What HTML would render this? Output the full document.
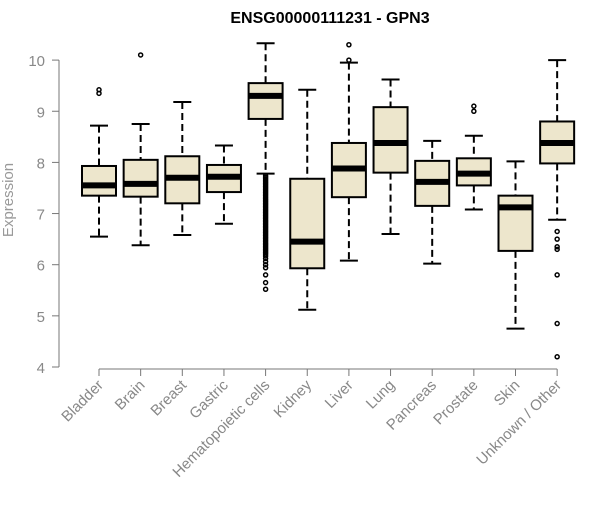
<!DOCTYPE html>
<html><head><meta charset="utf-8"><style>
body{margin:0;background:#fff;font-family:"Liberation Sans",Arial,sans-serif}
</style></head><body>
<svg id="chart" width="600" height="500" xmlns="http://www.w3.org/2000/svg">
<text x="330" y="23" text-anchor="middle" font-weight="bold" font-size="16" fill="#000">ENSG00000111231 - GPN3</text>
<text transform="translate(13,200) rotate(-90)" text-anchor="middle" font-size="15" fill="#999">Expression</text>
<g id="axes"></g><g id="boxes"></g>
</svg>
<script>
const categories=["Bladder","Brain","Breast","Gastric","Hematopoietic cells","Kidney","Liver","Lung","Pancreas","Prostate","Skin","Unknown / Other"];
const whiskerLow=[6.55,6.38,6.58,6.8,7.78,5.12,6.08,6.6,6.02,7.08,4.75,6.88];
const q1=[7.35,7.33,7.2,7.42,8.85,5.93,7.32,7.8,7.15,7.55,6.27,7.98];
const median=[7.55,7.58,7.7,7.72,9.3,6.45,7.88,8.38,7.62,7.78,7.12,8.38];
const q3=[7.93,8.05,8.12,7.95,9.55,7.68,8.38,9.08,8.03,8.08,7.35,8.8];
const whiskerHigh=[8.72,8.75,9.18,8.33,10.33,9.42,9.95,9.62,8.42,8.52,8.02,10.0];
const outliers=[[9.35,9.42],[10.1],[],[],[7.74,7.71,7.68,7.65,7.62,7.59,7.56,7.53,7.5,7.47,7.44,7.41,7.38,7.35,7.32,7.29,7.26,7.23,7.2,7.17,7.14,7.11,7.08,7.05,7.02,6.99,6.96,6.93,6.9,6.87,6.84,6.81,6.78,6.75,6.72,6.69,6.66,6.63,6.6,6.57,6.54,6.51,6.48,6.45,6.42,6.39,6.36,6.33,6.3,6.27,6.24,6.21,6.17,6.12,6.06,6.0,5.94,5.8,5.65,5.52],[],[10.0,10.3],[],[],[9.0,9.1],[],[6.65,6.5,6.35,6.3,5.8,4.85,4.2]];
const yTicks=[4,5,6,7,8,9,10];
const NS="http://www.w3.org/2000/svg";
const y=v=>367-(v-4)*51.15;
const x=i=>99+i*41.65;
function mk(tag,attrs,parent){const e=document.createElementNS(NS,tag);for(const k in attrs)e.setAttribute(k,attrs[k]);parent.appendChild(e);return e;}
const ax=document.getElementById('axes'),bx=document.getElementById('boxes');
const ya=mk('path',{d:`M59,${y(10)}H59V${y(4)}`,stroke:'#777',fill:'none'},ax);


yTicks.forEach(t=>{
 const l=mk('line',{x1:52,x2:59,y1:y(t),y2:y(t),stroke:'#777'},ax);
 
 
 const tx=mk('text',{x:45,y:y(t)+6,'text-anchor':'end','font-size':15,fill:'#888'},ax);
 tx.textContent=t;
 
 
});
const xa=mk('line',{x1:x(0),x2:x(categories.length-1),y1:369,y2:369,stroke:'#777'},ax);


categories.forEach((c,i)=>{
 const cx=x(i);
 const tk=mk('line',{x1:cx,x2:cx,y1:369,y2:376,stroke:'#777'},ax);
 
 
 const tl=mk('text',{x:cx+5,y:386,'text-anchor':'end','font-size':15,fill:'#888',transform:`rotate(-45 ${cx+5} 386)`},ax);
 tl.textContent=c;
 
 
 const g=mk('g',{},bx);
 
 
 const w=17,cap=9;
 mk('line',{x1:cx,x2:cx,y1:y(whiskerHigh[i]),y2:y(q3[i]),stroke:'#000','stroke-width':2,'stroke-dasharray':'7,4'},g);
 mk('line',{x1:cx,x2:cx,y1:y(q1[i]),y2:y(whiskerLow[i]),stroke:'#000','stroke-width':2,'stroke-dasharray':'7,4'},g);
 mk('line',{x1:cx-cap,x2:cx+cap,y1:y(whiskerHigh[i]),y2:y(whiskerHigh[i]),stroke:'#000','stroke-width':2},g);
 mk('line',{x1:cx-cap,x2:cx+cap,y1:y(whiskerLow[i]),y2:y(whiskerLow[i]),stroke:'#000','stroke-width':2},g);
 mk('rect',{x:cx-w,y:y(q3[i]),width:2*w,height:y(q1[i])-y(q3[i]),fill:'#ede6cc',stroke:'#000','stroke-width':2},g);
 mk('line',{x1:cx-w,x2:cx+w,y1:y(median[i]),y2:y(median[i]),stroke:'#000','stroke-width':6},g);
 outliers[i].forEach(o=>{
  const p=mk('circle',{cx:cx,cy:y(o),r:2,fill:'none',stroke:'#000','stroke-width':1.5},g);
  
  
 });
});
</script>
</body></html>
